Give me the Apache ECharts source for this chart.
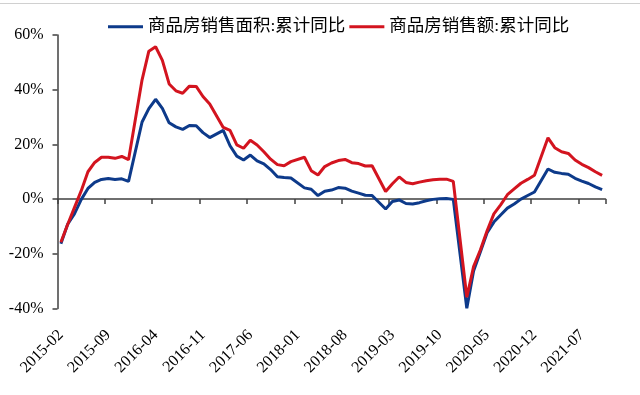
<!DOCTYPE html>
<html>
<head>
<meta charset="utf-8">
<script src="https://cdn.jsdelivr.net/npm/echarts@6/dist/echarts.min.js"></script>
<style>
html,body{margin:0;padding:0;background:#fff;}
#chart{width:640px;height:395px;}
</style>
</head>
<body>
<div id="chart"></div>
<script>
var months = [
  '2015-02','2015-03','2015-04','2015-05','2015-06','2015-07','2015-08','2015-09','2015-10','2015-11','2015-12',
  '2016-01','2016-02','2016-03','2016-04','2016-05','2016-06','2016-07','2016-08','2016-09','2016-10','2016-11','2016-12',
  '2017-01','2017-02','2017-03','2017-04','2017-05','2017-06','2017-07','2017-08','2017-09','2017-10','2017-11','2017-12',
  '2018-01','2018-02','2018-03','2018-04','2018-05','2018-06','2018-07','2018-08','2018-09','2018-10','2018-11','2018-12',
  '2019-01','2019-02','2019-03','2019-04','2019-05','2019-06','2019-07','2019-08','2019-09','2019-10','2019-11','2019-12',
  '2020-01','2020-02','2020-03','2020-04','2020-05','2020-06','2020-07','2020-08','2020-09','2020-10','2020-11','2020-12',
  '2021-01','2021-02','2021-03','2021-04','2021-05','2021-06','2021-07','2021-08','2021-09','2021-10'
];
var seriesNames = ['商品房销售面积:累计同比', '商品房销售额:累计同比'];
var salesArea = [
  -16.3, -9.2, -5.4, -0.2, 3.9, 6.1, 7.2, 7.5, 7.2, 7.4, 6.5,
  null, 28.2, 33.1, 36.5, 33.2, 27.9, 26.4, 25.5, 26.9, 26.8, 24.3, 22.5,
  null, 25.1, 19.5, 15.7, 14.3, 16.1, 14.0, 12.9, 10.8, 8.2, 7.9, 7.7,
  null, 4.1, 3.6, 1.3, 2.9, 3.3, 4.2, 4.0, 2.9, 2.2, 1.4, 1.3,
  null, -3.6, -0.9, -0.3, -1.6, -1.8, -1.3, -0.6, -0.1, 0.1, 0.2, -0.1,
  null, -39.9, -26.3, -19.3, -12.3, -8.4, -5.8, -3.3, -1.8, 0.0, 1.3, 2.6,
  null, 11.0, 9.8, 9.4, 9.1, 7.6, 6.6, 5.7, 4.5, 3.5
];
var salesAmount = [
  -15.8, -9.3, -3.1, 3.0, 10.0, 13.4, 15.3, 15.3, 14.9, 15.6, 14.4,
  null, 43.6, 54.1, 55.7, 50.7, 42.1, 39.6, 38.7, 41.3, 41.2, 37.5, 34.8,
  null, 26.2, 25.1, 19.8, 18.6, 21.5, 19.8, 17.3, 14.6, 12.6, 12.2, 13.7,
  null, 15.3, 10.4, 8.8, 11.9, 13.2, 14.1, 14.5, 13.3, 13.0, 12.1, 12.2,
  null, 2.8, 5.6, 8.1, 6.1, 5.6, 6.2, 6.7, 7.1, 7.3, 7.3, 6.5,
  null, -35.9, -24.7, -18.6, -11.6, -5.4, -2.1, 1.6, 3.7, 5.8, 7.2, 8.7,
  null, 22.4, 18.8, 17.3, 16.7, 14.3, 12.7, 11.5, 10.0, 8.7
];
var yMin = -40, yMax = 60, yStep = 20;

var axisColor = '#404040';
var serif = "'Liberation Serif', 'Times New Roman', serif";
var chart = echarts.init(document.getElementById('chart'));
chart.setOption({
  animation: false,
  backgroundColor: '#ffffff',
  color: ['#0d3a8a', '#d3141f'],
  graphic: [{
    type: 'line', shape: {x1: 0, y1: 3.5, x2: 640, y2: 3.5},
    style: {stroke: '#d0d0d0', lineWidth: 1}, silent: true
  }],
  legend: {
    left: 103, top: 13,
    itemWidth: 35, itemHeight: 3, itemGap: 4,
    icon: 'rect',
    textStyle: {fontFamily: serif + ", 'Noto Sans CJK SC'", fontSize: 17.5, color: '#000'},
    data: seriesNames
  },
  grid: {left: 57.5, right: 34.5, top: 35, bottom: 86.5},
  xAxis: [{
    type: 'category', data: months, boundaryGap: true,
    axisLine: {onZero: true, lineStyle: {color: axisColor, width: 1.5}},
    axisTick: {show: true, interval: 6, length: 5, lineStyle: {color: axisColor, width: 1.5}},
    axisLabel: {show: false}
  }, {
    type: 'category', data: months, boundaryGap: true, position: 'bottom',
    axisLine: {show: false, onZero: false},
    axisTick: {show: false},
    axisLabel: {show: true, interval: 6, rotate: 45, margin: 24,
      fontFamily: serif, fontSize: 16, color: '#000'}
  }],
  yAxis: {
    type: 'value', min: yMin, max: yMax, interval: yStep,
    splitLine: {show: false},
    axisLine: {show: true, lineStyle: {color: axisColor, width: 1.5}},
    axisTick: {show: true, length: 5, lineStyle: {color: axisColor, width: 1.5}},
    axisLabel: {formatter: '{value}%', margin: 14, fontFamily: serif, fontSize: 16, color: '#000'}
  },
  series: [{
    name: seriesNames[0], type: 'line', data: salesArea, connectNulls: true,
    symbol: 'none', lineStyle: {width: 3, color: '#0d3a8a'}, itemStyle: {color: '#0d3a8a'}, z: 2
  }, {
    name: seriesNames[1], type: 'line', data: salesAmount, connectNulls: true,
    symbol: 'none', lineStyle: {width: 3, color: '#d3141f'}, itemStyle: {color: '#d3141f'}, z: 3
  }]
});
</script>
</body>
</html>
